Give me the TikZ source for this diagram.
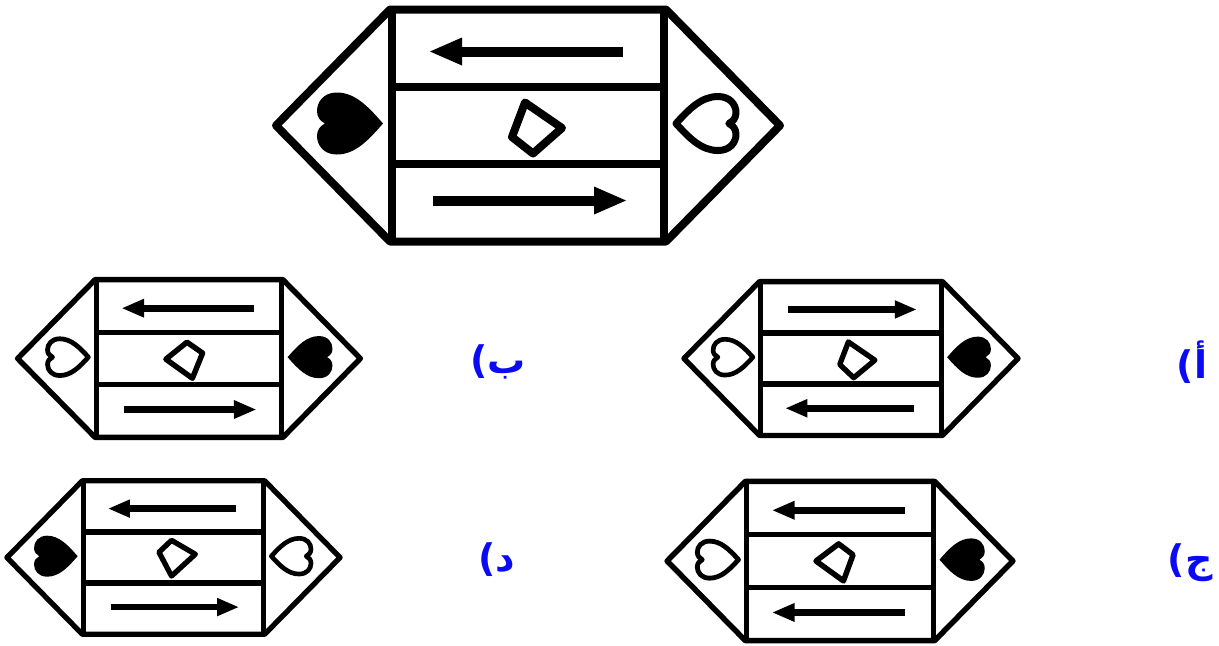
\documentclass[tikz,border=0pt]{standalone}
\usepackage{fontspec}
\newfontfamily\arabicfont[Script=Arabic]{DejaVu Sans}
\TeXXeTstate=1
\definecolor{lblue}{RGB}{10,10,245}
\tikzset{lab/.style={text=lblue, font=\arabicfont\bfseries\fontsize{19pt}{21pt}\selectfont, inner sep=0pt}}
\newcommand\heartp[1]{\path[#1] (1,0) .. controls (0.55,0.55) and (0.15,1) .. (-0.4,1) .. controls (-0.8,1) and (-1,0.7) .. (-1,0.4) .. controls (-1,0.2) and (-0.9,0.08) .. (-0.76,0) .. controls (-0.9,-0.08) and (-1,-0.2) .. (-1,-0.4) .. controls (-1,-0.7) and (-0.8,-1) .. (-0.4,-1) .. controls (0.15,-1) and (0.55,-0.55) .. (1,0) -- cycle;}
\newcommand\hexfig[7]{%
\begin{scope}[shift={(#1,#2)}, scale=#3]
\draw[line width=#3*4pt, line join=round] (-252,0) -- (-138,-116) -- (138,-116) -- (252,0) -- (138,116) -- (-138,116) -- cycle;
\draw[line width=#3*4pt] (-136,-116) -- (-136,116) (136,-116) -- (136,116) (-136,-38.5) -- (136,-38.5) (-136,38.5) -- (136,38.5);
\begin{scope}[xscale=#5]
\draw[line width=#3*5pt] (-95,-74) -- (70,-74);
\fill (98,-74) -- (66,-88) -- (66,-60) -- cycle;
\end{scope}
\begin{scope}[xscale=#6]
\draw[line width=#3*5pt] (-95,75) -- (70,75);
\fill (98,75) -- (66,61) -- (66,89) -- cycle;
\end{scope}
\draw[line width=#3*4pt, line join=round] #7 -- cycle;
\ifnum#4=1
 \begin{scope}[shift={(-178,-2)}, xscale=33, yscale=31]\heartp{fill=black}\end{scope}
 \begin{scope}[shift={(178,-2)}, xscale=-30, yscale=27]\heartp{draw, line width=#3*3.5pt, line join=round}\end{scope}
\else
 \begin{scope}[shift={(-178,-2)}, xscale=30, yscale=27]\heartp{draw, line width=#3*3.5pt, line join=round}\end{scope}
 \begin{scope}[shift={(178,-2)}, xscale=-33, yscale=31]\heartp{fill=black}\end{scope}
\fi
\end{scope}}
\begin{document}
\begin{tikzpicture}[x=0.5pt, y=-0.5pt]
\useasboundingbox (0,0) rectangle (1219,645);
% original
\hexfig{528}{125.5}{1}{1}{-1}{1}{(-3,-23) -- (34,2.5) -- (5,28) -- (-16,11.5)}
% A (right middle)
\hexfig{851}{358.5}{0.663}{0}{1}{-1}{(-4,-25) -- (36,2.5) -- (4,29) -- (-17,9)}
% B (left middle)
\hexfig{189}{358.5}{0.68}{0}{-1}{1}{(-3,-24) -- (20,-8) -- (5,29) -- (-34,1)}
% D (left bottom)
\hexfig{173.5}{557.5}{0.661}{1}{-1}{1}{(-3,-26) -- (33,-5) -- (-3,28) -- (-22,-8)}
% C (right bottom)
\hexfig{840}{561}{0.686}{0}{-1}{-1}{(-2,-25) -- (19,-9) -- (5,29) -- (-35,0)}
\node[lab] (la) at (1192,362) {أ)};
\node[lab] (lb) at (498,362) {ب)};
\node[lab] (lc) at (1190,563) {ج)};
\node[lab] (ld) at (497,560) {د)};
\end{tikzpicture}
\end{document}
